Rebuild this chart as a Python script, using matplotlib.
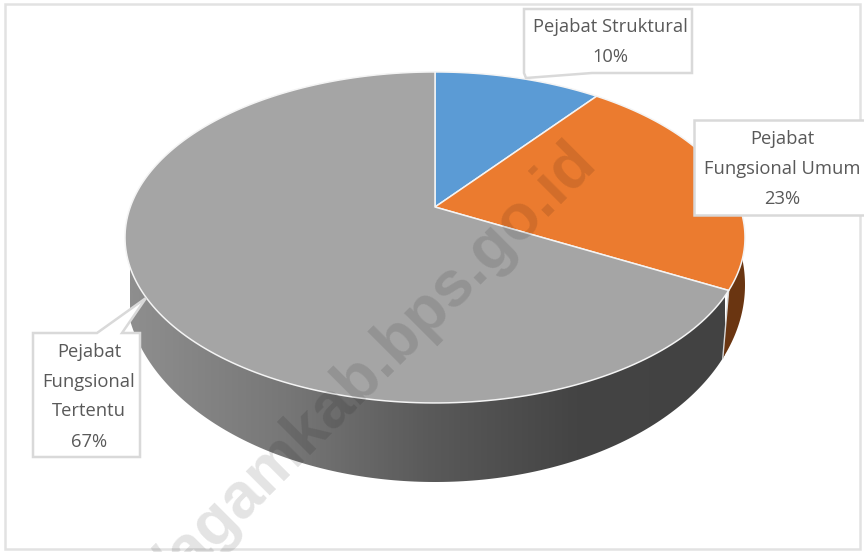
import numpy as np
import matplotlib
matplotlib.use("Agg")
import matplotlib.pyplot as plt
from matplotlib.patches import Polygon, Rectangle
from matplotlib.colors import LinearSegmentedColormap

categories = ["Pejabat Struktural", "Pejabat Fungsional Umum", "Pejabat Fungsional Tertentu"]
values = [10.4, 22.5, 67.1]
label_lines = [["Pejabat Struktural", "10%"],
               ["Pejabat", "Fungsional Umum", "23%"],
               ["Pejabat", "Fungsional", "Tertentu", "67%"]]
colors = ["#5b9bd5", "#eb7b2f", "#a5a5a5"]

W, H = 864, 552
fig = plt.figure(figsize=(W / 100, H / 100), dpi=100)
ax = fig.add_axes([0, 0, 1, 1])
ax.set_xlim(0, W); ax.set_ylim(H, 0); ax.axis("off")

CX, AY = 435, 207
K = 0.184; B = 159.9; A = 304.7
BOT_CY, BOT_RX, BOT_RY = 285, 310, 197

def top_pt(deg):
    t = np.radians(deg)
    d = 1 + K * np.cos(t)
    return CX + A * np.sin(t) / d, AY - B * np.cos(t) / d

def bot_pt_for(deg):
    x, _ = top_pt(deg)
    dx = (x - CX) * 0.98
    s = np.sqrt(max(0, 1 - (dx / BOT_RX) ** 2))
    sign = 1 if np.cos(np.radians(deg)) < 0.3 else -1
    return CX + dx, BOT_CY + sign * BOT_RY * s

# frame
ax.add_patch(Rectangle((5, 4), 855, 545, fc="white", ec="#e2e2e2", lw=1.8, zorder=0))

# side wall
tt = np.linspace(0, 2 * np.pi, 400)
bot_xy = np.c_[CX + BOT_RX * np.cos(tt), BOT_CY + BOT_RY * np.sin(tt)]
clip = Polygon(bot_xy, closed=True, transform=ax.transData, fc="none", ec="none")
ax.add_patch(clip)
cmap = LinearSegmentedColormap.from_list("side", [(0, "#8e8e8e"), (0.27, "#767676"),
                                                  (0.5, "#5a5a5a"), (0.75, "#444444"), (1, "#424242")])
im = ax.imshow(np.linspace(0, 1, 300)[None, :], extent=[130, 725, 500, 60], cmap=cmap,
               aspect="auto", zorder=1, interpolation="bilinear")
im.set_clip_path(clip)
ax.set_xlim(0, W); ax.set_ylim(H, 0)

cum = np.cumsum([0] + values) / sum(values) * 360

# orange side piece (right of the seam)
sx0, sy0 = top_pt(cum[2])
sx1, sy1 = bot_pt_for(cum[2])
yy = np.linspace(BOT_CY - 60, sy1, 60)
ox = CX + BOT_RX * np.sqrt(1 - ((yy - BOT_CY) / BOT_RY) ** 2)
ax.add_patch(Polygon(np.r_[[[sx0, sy0]], np.c_[ox, yy], [[sx1, sy1]]], closed=True,
                     fc="#6a3511", ec="none", zorder=2))
ax.plot([sx0, sx1], [sy0, sy1], color="#d8d8d8", lw=1.0, zorder=3)

# top face slices
for i in range(len(values)):
    aa = np.linspace(cum[i], cum[i + 1], 200)
    px, py = top_pt(aa)
    ax.add_patch(Polygon(np.r_[[[CX, AY]], np.c_[px, py]], closed=True, fc=colors[i],
                         ec="#f4f4f4", lw=1.1, joinstyle="round", zorder=4))

# leader-callout boxes
EDGE = "#d9d9d9"
def box(verts):
    ax.add_patch(Polygon(verts, closed=True, fc="white", ec=EDGE, lw=1.8, zorder=6))

box([(524, 9), (692, 9), (692, 73), (592, 73), (526, 78), (524, 73)])
box([(694, 120), (866, 120), (866, 215), (694, 215)])
box([(33, 333), (97, 333), (146, 298), (122, 333), (140, 333), (140, 457), (33, 457)])

FONT = "Open Sans"
def put(cx, ys, lines):
    for y, s in zip(ys, lines):
        ax.text(cx, y, s, ha="center", va="center", family=FONT, fontsize=13.2,
                color="#595959", zorder=7)

put(610, [27, 57], label_lines[0])
put(782, [139, 169, 199], label_lines[1])
put(89, [352, 382, 411, 442], label_lines[2])

# watermark
ax.text(587, 154, "/agamkab.bps.go.id", rotation=45, rotation_mode="anchor",
        ha="right", va="center", family="Liberation Sans", weight="bold", fontsize=46,
        color="black", alpha=0.11, zorder=8, clip_on=True)

fig.savefig("out.png", dpi=100, facecolor="white")
